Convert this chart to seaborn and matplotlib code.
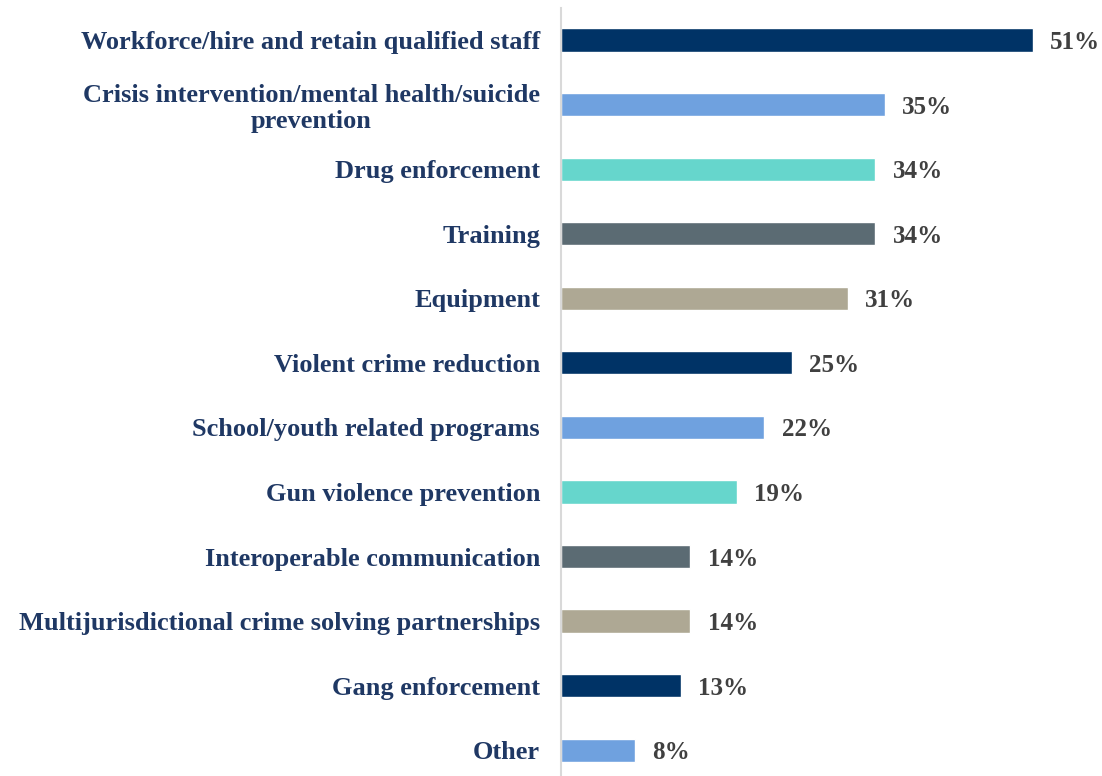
import pandas as pd
import matplotlib.pyplot as plt
import seaborn as sns

# Chart data
categories = [
    "Workforce/hire and retain qualified staff",
    "Crisis intervention/mental health/suicide\nprevention",
    "Drug enforcement",
    "Training",
    "Equipment",
    "Violent crime reduction",
    "School/youth related programs",
    "Gun violence prevention",
    "Interoperable communication",
    "Multijurisdictional crime solving partnerships",
    "Gang enforcement",
    "Other",
]
values = [51, 35, 34, 34, 31, 25, 22, 19, 14, 14, 13, 8]
bar_colors = ["#003366", "#6FA1DF", "#66D6CC", "#5B6B73", "#AEA894",
              "#003366", "#6FA1DF", "#66D6CC", "#5B6B73", "#AEA894",
              "#003366", "#6FA1DF"]

df = pd.DataFrame({"category": categories, "value": values})

sns.set_style("white")
plt.rcParams['font.family'] = ['Liberation Serif', 'DejaVu Serif']

fig = plt.figure(figsize=(11.02, 7.76), dpi=100)
ax = fig.add_axes([0.509, 0.0, 0.491, 0.99])

sns.barplot(data=df, x="value", y="category", hue="category",
            palette=bar_colors, legend=False, width=0.36, ax=ax,
            saturation=1, orient="h")

ax.set_xlim(0, 58.5)
ax.set_ylim(11.4, -0.5)
ax.set_xlabel("")
ax.set_ylabel("")
ax.set_xticks([])

for s in ["top", "right", "bottom"]:
    ax.spines[s].set_visible(False)
ax.spines["left"].set_color("#D9D9D9")
ax.spines["left"].set_linewidth(1.5)

ax.tick_params(axis="y", length=0, pad=15)
for lab in ax.get_yticklabels():
    lab.set_fontsize(19)
    lab.set_fontweight("bold")
    lab.set_color("#1F3864")
    if "\n" in lab.get_text():
        lab.set_multialignment("center")
        lab.set_linespacing(1.15)

# value labels
for i, v in enumerate(values):
    ax.text(v + 1.85, i, f"{v}%", va="center_baseline", ha="left",
            fontsize=18, fontweight="bold", color="#404040")

plt.savefig("out.png", dpi=100)
